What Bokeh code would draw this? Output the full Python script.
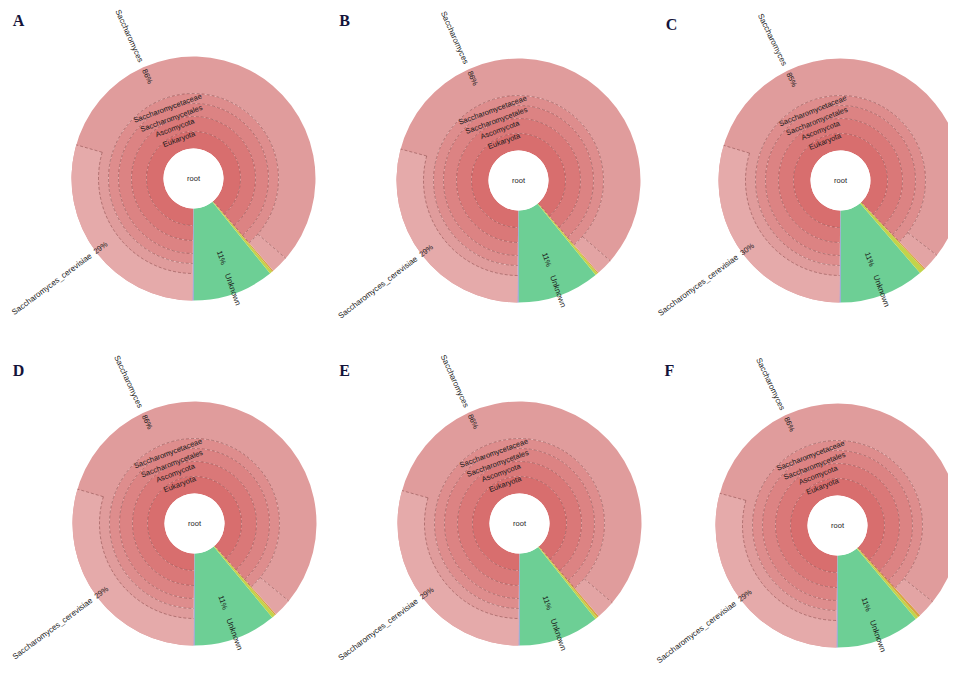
import math
from bokeh.plotting import figure
from bokeh.models import ColumnDataSource, Range1d
from bokeh.core.properties import value
from bokeh.embed import file_html
from bokeh.resources import INLINE

# ---------------- data (percent of reads per panel) ----------------
panels = ["A", "B", "C", "D", "E", "F"]
unknown_pct = [10.8, 10.9, 11.3, 11.0, 10.7, 11.1]
minor_yellow_pct = [0.35, 0.30, 0.70, 0.45, 0.30, 0.40]
minor_orange_pct = [0.20, 0.15, 0.20, 0.20, 0.25, 0.35]
minor_purple_pct = [0.15, 0.15, 0.15, 0.15, 0.15, 0.15]
other_genus_pct = [2.3, 2.2, 2.3, 2.4, 2.5, 2.4]
cerevisiae_pct = [29.3, 29.0, 29.5, 29.4, 29.2, 29.1]
lineage = ["Eukaryota", "Ascomycota", "Saccharomycetales", "Saccharomycetaceae"]
genus_name = "Saccharomyces"
species_name = "Saccharomyces_cerevisiae"
unknown_name = "Unknown"

# ---------------- layout ----------------
W, H = 948, 670
def pg(X, Y):  # page pixel -> data coords
    return X - 8, 678 - Y
centers = [pg(201, 186), pg(526, 188), pg(848, 188),
           pg(202, 531), pg(527, 531), pg(845, 533)]
letter_pos = [pg(26, 28), pg(352, 28), pg(679, 32),
              pg(26, 378), pg(352, 378), pg(677, 378)]
radii = [30, 47, 62, 75, 85, 95, 122]
label_r = [42, 54, 64, 75]
ring_colors = ["#d86e6e", "#da7878", "#dc8383", "#de8d8d"]
genus_color = "#e09c9c"
other_genus_color = "#e3a4a4"
species_color = "#e5aaaa"
green = "#6dcf95"
yellow = "#c2d44a"
orange = "#d9a441"
purple = "#7f7fd8"

R = math.radians

p = figure(width=W, height=H, x_range=Range1d(0, W), y_range=Range1d(0, H),
           output_backend="svg", toolbar_location=None, min_border=0)
p.axis.visible = False
p.grid.visible = False
p.outline_line_color = None
p.background_fill_color = "white"

wed = dict(x=[], y=[], r0=[], r1=[], a0=[], a1=[], c=[])
arcs = dict(x=[], y=[], r=[], a0=[], a1=[])
segs = dict(x0=[], y0=[], x1=[], y1=[])
txt = dict(x=[], y=[], t=[], ang=[], align=[], size=[])

def add_w(cx, cy, r0, r1, a0, a1, c):
    for k, v in zip(["x", "y", "r0", "r1", "a0", "a1", "c"], [cx, cy, r0, r1, R(a0), R(a1), c]):
        wed[k].append(v)

def pol(cx, cy, r, a):
    return cx + r * math.cos(R(a)), cy + r * math.sin(R(a))

def add_t(cx, cy, r, a, t, ang, align, size):
    x, y = pol(cx, cy, r, a)
    txt["x"].append(x); txt["y"].append(y); txt["t"].append(t)
    txt["ang"].append(R(ang)); txt["align"].append(align); txt["size"].append(size)

def add_seg(cx, cy, ra, rb, a):
    x0, y0 = pol(cx, cy, ra, a)
    x1, y1 = pol(cx, cy, rb, a)
    segs["x0"].append(x0); segs["y0"].append(y0)
    segs["x1"].append(x1); segs["y1"].append(y1)

def add_arc(cx, cy, r, a0, a1):
    arcs["x"].append(cx); arcs["y"].append(cy); arcs["r"].append(r)
    arcs["a0"].append(R(a0)); arcs["a1"].append(R(a1))

for i in range(len(panels)):
    cx, cy = centers[i]
    unk = unknown_pct[i]
    euk = 100 - unk - minor_yellow_pct[i] - minor_orange_pct[i] - minor_purple_pct[i]
    gen = euk - other_genus_pct[i]
    a = -90.0
    g0, g1 = a, a + 3.6 * unk
    add_w(cx, cy, radii[0], radii[-1], g0, g1, green)
    a = g1
    y1 = a + 3.6 * minor_yellow_pct[i]
    add_w(cx, cy, radii[0], radii[-1], a, y1, yellow)
    a = y1
    o1 = a + 3.6 * minor_orange_pct[i]
    add_w(cx, cy, radii[0], radii[-1], a, o1, orange)
    e0 = o1
    e1 = e0 + 3.6 * euk
    add_w(cx, cy, radii[0], radii[-1], e1, 270.0, purple)
    for k in range(4):
        add_w(cx, cy, radii[k], radii[k + 1], e0, e1, ring_colors[k])
        if k > 0:
            add_arc(cx, cy, radii[k], e0, e1)
        mid = (e0 + e1) / 2
        add_t(cx, cy, label_r[k], mid, lineage[k], mid - 90, "center", "7.5px")
    gg0 = e0 + 3.6 * other_genus_pct[i]
    add_w(cx, cy, radii[4], radii[-1], e0, gg0, other_genus_color)
    add_w(cx, cy, radii[4], radii[-1], gg0, e1, genus_color)
    add_arc(cx, cy, radii[4], e0, e1)
    s0 = e1 - 3.6 * cerevisiae_pct[i]
    add_w(cx, cy, radii[5], radii[-1], s0, e1, species_color)
    add_arc(cx, cy, radii[5], s0, e1)
    add_seg(cx, cy, radii[0], radii[4], e0)
    add_seg(cx, cy, radii[4], radii[-1], gg0)
    add_seg(cx, cy, radii[5], radii[-1], s0)
    gm = (gg0 + e1) / 2
    add_t(cx, cy, 128, gm, genus_name, gm + 180, "right", "8px")
    add_t(cx, cy, 112, gm, "%d%%" % round(gen), gm + 180, "center", "7.5px")
    sm = (s0 + e1) / 2
    add_t(cx, cy, 128, sm, species_name, sm + 180, "right", "8px")
    add_t(cx, cy, 116, sm, "%d%%" % round(cerevisiae_pct[i]), sm + 180, "center", "7.5px")
    um = (g0 + g1) / 2
    add_t(cx, cy, 84, um, "%d%%" % round(unk), um, "center", "7.5px")
    add_t(cx, cy, 101, um, unknown_name, um, "left", "8px")

p.annular_wedge(x="x", y="y", inner_radius="r0", outer_radius="r1",
                start_angle="a0", end_angle="a1",
                fill_color="c", line_color=None, source=ColumnDataSource(wed))
root = ColumnDataSource(dict(x=[c[0] for c in centers], y=[c[1] for c in centers]))
p.circle(x="x", y="y", radius=radii[0], fill_color="white", line_color=None, source=root)
p.text(x="x", y="y", text=value("root"), text_font=value("Liberation Sans"),
       text_font_size="7.5px", text_align="center", text_baseline="middle",
       text_color="#222222", source=root)

p.arc(x="x", y="y", radius="r", start_angle="a0", end_angle="a1",
      line_color="#7a3c3c", line_alpha=0.6, line_width=0.8, line_dash="3 2",
      source=ColumnDataSource(arcs))
p.segment(x0="x0", y0="y0", x1="x1", y1="y1", line_color="#7a3c3c", line_alpha=0.6,
          line_width=0.8, line_dash="3 2", source=ColumnDataSource(segs))

p.text(x="x", y="y", text="t", angle="ang", text_align="align",
       text_baseline="middle", text_font=value("Liberation Sans"), text_font_size="size",
       text_color="#1a1a1a", source=ColumnDataSource(txt))

ls = ColumnDataSource(dict(x=[q[0] for q in letter_pos], y=[q[1] for q in letter_pos], t=panels))
p.text(x="x", y="y", text="t", text_font=value("Liberation Serif"), text_font_style="bold",
       text_font_size="16px", text_align="center", text_baseline="middle",
       text_color="#14143a", source=ls)

open("out.html", "w").write(file_html(p, INLINE))
